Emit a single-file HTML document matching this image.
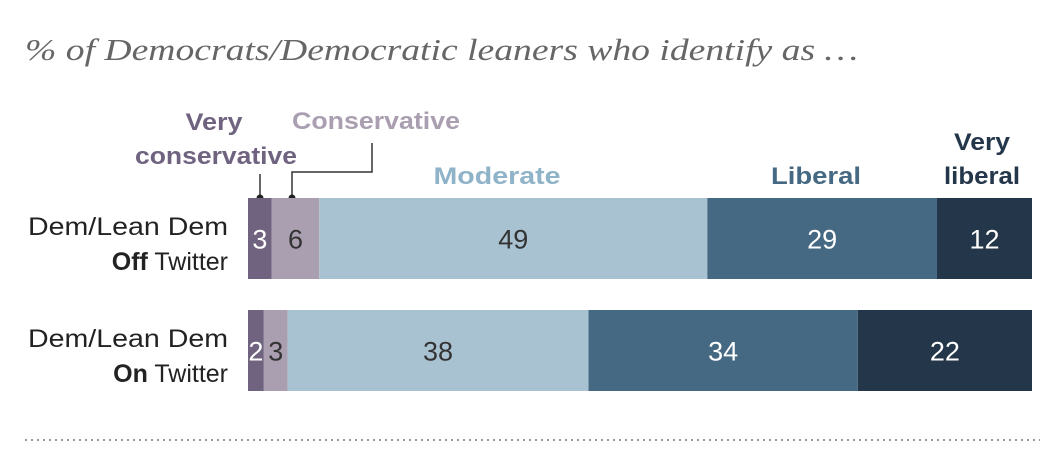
<!DOCTYPE html>
<html><head><meta charset="utf-8"><style>
body{margin:0;background:#fff;width:1044px;height:468px;overflow:hidden;font-family:"Liberation Sans",sans-serif}
</style></head><body>
<svg width="1044" height="468">
<text x="25" y="60" font-family="Liberation Serif" font-style="italic" font-size="31" fill="#666" textLength="833" lengthAdjust="spacingAndGlyphs">% of Democrats/Democratic leaners who identify as …</text>
<g id="legend" font-weight="bold" font-size="24"></g>
<g id="bars"></g>
<g id="rows" font-size="25" fill="#222"></g>
<line x1="25" y1="440" x2="1040" y2="440" stroke="#999" stroke-width="2" stroke-dasharray="2,4"/>
</svg>
<script>
const categories=["Very conservative","Conservative","Moderate","Liberal","Very liberal"];
const rowsLabels=[["Dem/Lean Dem","Off"],["Dem/Lean Dem","On"]];
const offTwitter=[3,6,49,29,12];
const onTwitter=[2,3,38,34,22];
const colors=["#6f6380","#aa9fb0","#a9c2d2","#456883","#24374a"];
const textColors=["#fff","#333","#333","#fff","#fff"];
const series=[offTwitter,onTwitter];
const x0=248,x1=1032,rowY=[198,310],barH=81;
const NS="http://www.w3.org/2000/svg";
function mk(t,a,p){const e=document.createElementNS(NS,t);for(const k in a)e.setAttribute(k,a[k]);p.appendChild(e);return e;}
const bars=document.getElementById('bars'),rows=document.getElementById('rows'),leg=document.getElementById('legend');
series.forEach((vals,r)=>{
 const tot=vals.reduce((a,b)=>a+b,0);let x=x0;
 vals.forEach((v,i)=>{
  const w=v/tot*(x1-x0);
  const rc=mk('rect',{x:x,y:rowY[r],width:w,height:barH,fill:colors[i]},bars);
  
  
  const t=mk('text',{x:x+w/2,y:rowY[r]+barH/2+10,'text-anchor':'middle','font-size':27,fill:textColors[i]},bars);
  t.textContent=v;
  
  
  x+=w;
 });
 const t1=mk('text',{x:228,y:rowY[r]+37,'text-anchor':'end',textLength:200,lengthAdjust:'spacingAndGlyphs'},rows);t1.textContent=rowsLabels[r][0];
 
 
 const t2=mk('text',{x:228,y:rowY[r]+72,'text-anchor':'end'},rows);
 const b=mk('tspan',{'font-weight':'bold'},t2);b.textContent=rowsLabels[r][1];
 const s=mk('tspan',{},t2);s.textContent=' Twitter';
 
 
});
function L(txt,x,y,fill,w){const t=mk('text',{x:x,y:y,fill:fill,'text-anchor':'middle',textLength:w,lengthAdjust:'spacingAndGlyphs'},leg);t.textContent=txt;}
L("Very",214,130,colors[0],57);L("conservative",216,164,colors[0],162);
L("Conservative",376,129,colors[1],168);
L("Moderate",497,184,"#8fb3c8",127);
L("Liberal",816,184,colors[3],90);
L("Very",982,150,colors[4],56);L("liberal",982,184,colors[4],76);
mk('path',{d:"M260 174V198",stroke:"#333","stroke-width":1.5,fill:"none"},leg);
mk('path',{d:"M292 198V172H372V143",stroke:"#333","stroke-width":1.5,fill:"none"},leg);
mk('circle',{cx:260,cy:198,r:3.5,fill:"#222"},leg);
mk('circle',{cx:292,cy:198,r:3.5,fill:"#222"},leg);
</script>
</body></html>
